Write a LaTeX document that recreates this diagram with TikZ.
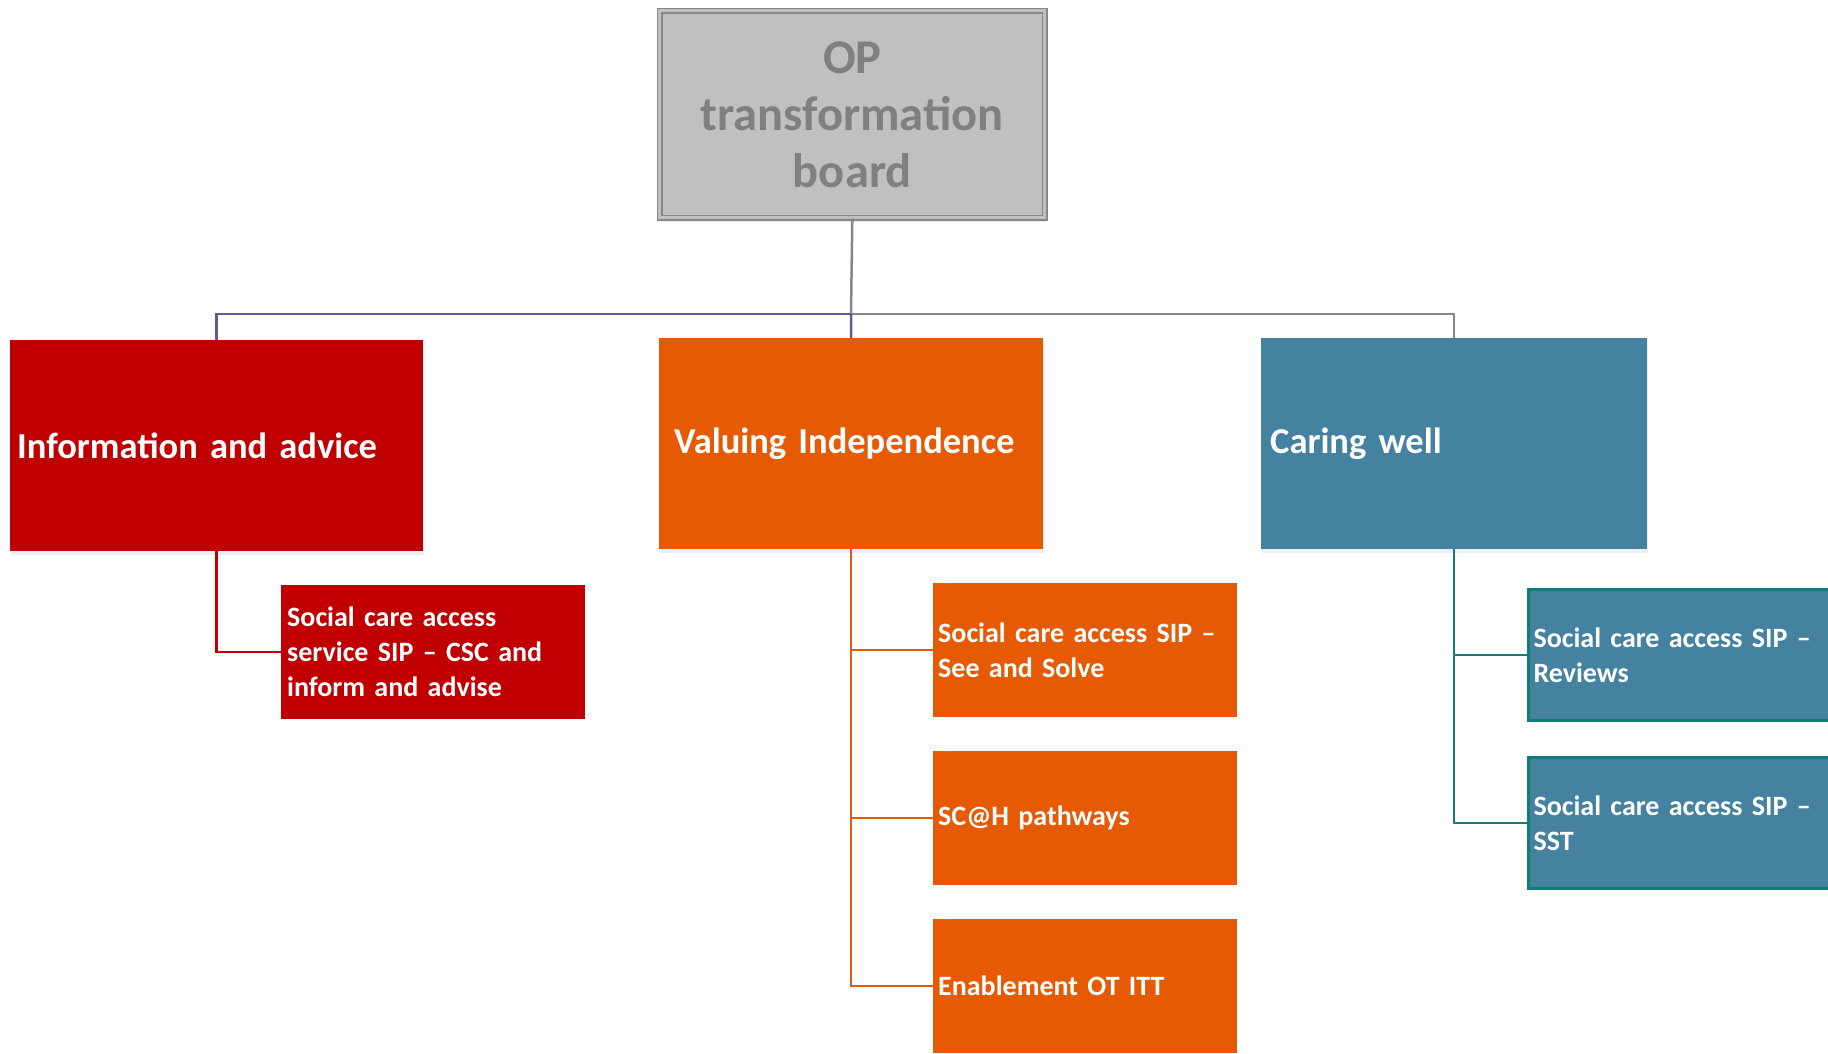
\documentclass[tikz,border=0pt]{standalone}
\usepackage{fontspec}
\setmainfont{Carlito}
\usetikzlibrary{shadows}
\definecolor{cred}{HTML}{C00000}
\definecolor{corange}{HTML}{E55A03}
\definecolor{cblue}{HTML}{44829F}
\definecolor{cteal}{HTML}{0F7E79}
\definecolor{cgfill}{HTML}{C0C0C0}
\definecolor{cgtext}{HTML}{808080}
\definecolor{cgline}{HTML}{878787}
\definecolor{cpurple}{HTML}{605E8E}
\definecolor{cshadow}{HTML}{C4D2E6}
\tikzset{
  base/.style={anchor=north west, inner ysep=0pt, align=left, text=white, font=\bfseries},
  mainbox/.style={base, font=\fontsize{36.5}{44}\selectfont\bfseries,
     drop shadow={shadow xshift=1pt, shadow yshift=-4pt, fill=cshadow, opacity=0.35}},
  childbox/.style={base, font=\fontsize{28}{35}\selectfont\bfseries},
  conn/.style={line width=2.5pt}
}
\begin{document}
\begin{tikzpicture}[x=1pt,y=-1pt]
\useasboundingbox (0,0) rectangle (1828,1053);
\fill[white] (0,0) rectangle (1828,1053);
% top box
\node[anchor=north west, minimum width=385pt, minimum height=207pt, inner sep=0pt,
  fill=cgfill, draw=cgline, double=cgfill, line width=1.6pt, double distance=3pt,
  drop shadow={shadow xshift=1pt, shadow yshift=-4pt, fill=cshadow, opacity=0.35},
  text width=370pt, align=center, text=cgtext,
  font=\fontsize{48.5}{57}\selectfont\bfseries] (top) at (659,10) {OP\\transformation\\board};
% main boxes
\node[mainbox, fill=cred, minimum width=413pt, minimum height=211pt, text width=399pt, inner xsep=7pt] (red) at (10,340) {Information and advice};
\node[mainbox, fill=corange, minimum width=384pt, minimum height=211pt, text width=354pt, inner xsep=15pt] (org) at (659,338) {Valuing Independence};
\node[mainbox, fill=cblue, minimum width=386pt, minimum height=211pt, text width=368pt, inner xsep=9pt] (blu) at (1261,338) {Caring well};
% children
\node[childbox, fill=cred, minimum width=304pt, minimum height=134pt, text width=292pt, inner xsep=6pt] (r1) at (281,585) {Social care access\\service SIP -- CSC and\\inform and advise};
\node[childbox, fill=corange, minimum width=304pt, minimum height=134pt, text width=294pt, inner xsep=5pt] (o1) at (933,583) {Social care access SIP --\\See and Solve};
\node[childbox, fill=corange, minimum width=304pt, minimum height=134pt, text width=294pt, inner xsep=5pt] (o2) at (933,751) {SC@H pathways};
\node[childbox, fill=corange, minimum width=304pt, minimum height=134pt, text width=294pt, inner xsep=5pt] (o3) at (933,919) {Enablement OT ITT};
\node[childbox, fill=cblue, draw=cteal, line width=3pt, minimum width=304pt, minimum height=131pt, text width=294pt, inner xsep=4pt] (b1) at (1527,588) {Social care access SIP --\\Reviews};
\node[childbox, fill=cblue, draw=cteal, line width=3pt, minimum width=304pt, minimum height=131pt, text width=294pt, inner xsep=4pt] (b2) at (1527,756) {Social care access SIP --\\SST};
% connectors
\coordinate (j) at (851,314);
\draw[conn, cgline] (top.south) -- (j);
\draw[conn, cgline] (j) -| (blu.north);
\draw[conn, cpurple] (j) -| (red.north);
\draw[conn, cpurple] (j) -- (org.north);
\draw[conn, cred] (red.south) |- (r1.west);
\draw[conn, corange] (org.south) |- (o1.west);
\draw[conn, corange] (org.south) |- (o2.west);
\draw[conn, corange] (org.south) |- (o3.west);
\draw[conn, cteal] (blu.south) |- (b1.west);
\draw[conn, cteal] (blu.south) |- (b2.west);
\end{tikzpicture}
\end{document}
